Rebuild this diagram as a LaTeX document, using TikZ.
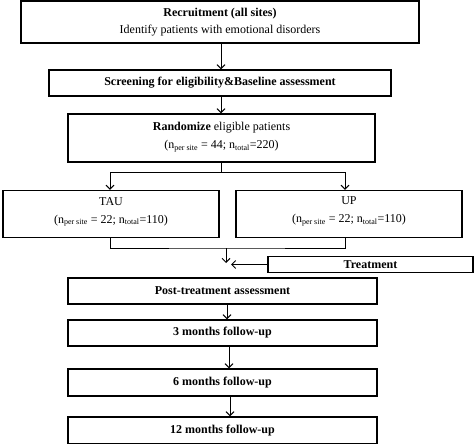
\documentclass[tikz,border=0pt]{standalone}
\usepackage{fontspec}
\setmainfont{Liberation Serif}
\usepackage{tikz}
\usetikzlibrary{positioning, arrows.meta}
\tikzstyle{box} = [rectangle, draw=black, line width=1.2pt, inner sep=0pt, text centered, align=center, font=\fontsize{12}{17}\selectfont]
\tikzstyle{txt} = [inner sep=0pt, align=center, font=\fontsize{12}{18}\selectfont]
\tikzstyle{arrow} = [line width=1pt,-{Straight Barb[length=4pt,width=8pt,line width=1pt]}]
\tikzstyle{line} = [line width=1pt]

\begin{document}
\begin{tikzpicture}[x=1pt, y=-1pt]
    \useasboundingbox (0,0) rectangle (474,444);
    % Nodes
    \node (recruit) [box, minimum width=398pt, minimum height=42pt] at (220,22) {\textbf{Recruitment (all sites)}\\Identify patients with emotional disorders};
    \node (screen) [box, minimum width=342pt, minimum height=26pt] at (220,83) {\textbf{Screening for eligibility\&Baseline assessment}};
    \node (random) [box, minimum width=307pt, minimum height=48pt] at (221.5,138) {};
    \node (randomtext) [txt, anchor=north] at ([yshift=-9pt]random.north) {\textbf{Randomize} eligible patients\\(n\textsubscript{per site} = 44; n\textsubscript{total}=220)};
    \node (tau) [box, minimum width=216pt, minimum height=47pt] at (111,214) {};
    \node (tautext) [txt, anchor=north] at ([yshift=-7pt]tau.north) {TAU\\(n\textsubscript{per site} = 22; n\textsubscript{total}=110)};
    \node (up) [box, minimum width=226pt, minimum height=47pt] at (349,214) {};
    \node (uptext) [txt, anchor=north] at ([yshift=-7pt]up.north) {UP\\(n\textsubscript{per site} = 22; n\textsubscript{total}=110)};
    \node (treat) [box, minimum width=205pt, minimum height=16pt] at (370.5,264.5) {\textbf{Treatment}};
    \node (post) [box, minimum width=309pt, minimum height=26pt] at (222.5,291) {\textbf{Post-treatment assessment}};
    \node (m3) [box, minimum width=309pt, minimum height=26pt] at (222.5,333) {\textbf{3 months follow-up}};
    \node (m6) [box, minimum width=309pt, minimum height=27pt] at (222.5,382.5) {\textbf{6 months follow-up}};
    \node (m12) [box, minimum width=309pt, minimum height=27pt] at (222.5,430.5) {\textbf{12 months follow-up}};
    % Coordinates
    \coordinate (split) at (221,172);
    \coordinate (merge) at (226,248);
    \coordinate (join) at (226,263);
    % Arrows
    \draw [arrow] (recruit.south -| split) -- (screen.north -| split);
    \draw [arrow] (screen.south -| split) -- (random.north -| split);
    \draw [line] (random.south -| split) -- (split);
    \draw [arrow] (split) -| (tau.north -| 110,0);
    \draw [arrow] (split) -| (up.north -| 345,0);
    \draw [line] (tau.south -| 110,0) |- (merge) -| (up.south -| 345,0);
    \draw [arrow] (merge) -- (join);
    \draw [arrow] (treat.west) -- ([xshift=5pt]join |- treat.west);
    \draw [arrow] (post.south -| 227,0) -- (m3.north -| 227,0);
    \draw [arrow] (m3.south -| 229,0) -- (m6.north -| 229,0);
    \draw [arrow] (m6.south -| 230,0) -- (m12.north -| 230,0);
\end{tikzpicture}
\end{document}
